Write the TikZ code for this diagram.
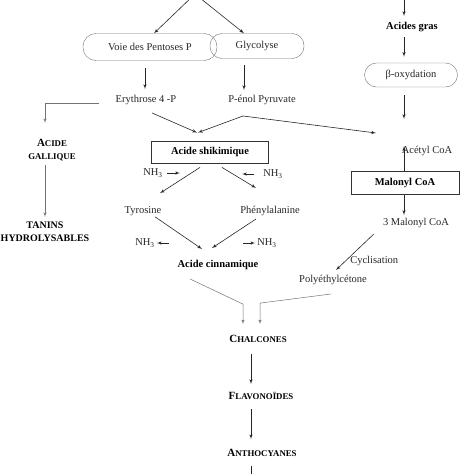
\documentclass[tikz,border=0pt]{standalone}
\usepackage{fontspec}
\setmainfont{Liberation Serif}
\usetikzlibrary{shapes,arrows,positioning}

\newcommand{\petitcap}[2]{{\fontsize{11}{13}\selectfont #1}{\fontsize{8.8}{13}\selectfont #2}}

\begin{document}
\begin{tikzpicture}[x=1pt, y=-1pt, >=latex',
    txt/.style={inner sep=2pt, font=\fontsize{10.5}{13}\selectfont, text=black!85},
    gras/.style={inner sep=2pt, font=\fontsize{10.5}{13}\selectfont\bfseries},
    pill/.style={rectangle, draw=black!55, rounded corners=12pt, minimum height=25pt, inner sep=2pt, font=\fontsize{10.5}{13}\selectfont, text=black!85},
    cadre/.style={rectangle, draw=black!80, line width=0.8pt, minimum height=22pt, inner sep=2pt, font=\fontsize{10.5}{13}\selectfont\bfseries},
    arrow/.style={->, draw=black!85, line width=0.6pt},
    fine/.style={->, draw=black!55, line width=0.5pt}]

    \useasboundingbox (0,0) rectangle (474,474);

    % Points libres
    \coordinate (src) at (195,-6);
    \coordinate (grasIn) at (404,-4);
    \coordinate (colR) at (404,0);
    \coordinate (colC) at (251,0);
    \coordinate (acJoin) at (404,119);
    \coordinate (acIn) at (376,133);
    \coordinate (finBas) at (251,482);

    % Noeuds
    \node [pill, minimum width=134pt, minimum height=27pt, rounded corners=13pt] (pentoses) at (150,47) {Voie des Pentoses P};
    \node [pill, minimum width=94pt] (glyco) at (257,46) {Glycolyse};
    \node [gras] (acgras) at (412,27) {Acides gras};
    \node [pill, minimum width=93pt, minimum height=24pt] (betaox) at (411,75) {β-oxydation};
    \node [txt] (erythrose) at (146,100) {Erythrose 4 -P};
    \node [txt] (pep) at (262,100) {P-énol Pyruvate};
    \node [gras, align=center] (gallique) at (52,150) {\petitcap{A}{CIDE}\\\petitcap{}{GALLIQUE}};
    \node [gras, align=center, font=\fontsize{10}{13}\selectfont\bfseries, inner sep=1pt] (tanins) at (45,232) {TANINS\\HYDROLYSABLES};
    \node [cadre, minimum width=117pt] (shik) at (210,152) {Acide shikimique};
    \node [txt] (acetyl) at (427,151) {Acétyl CoA};
    \node [cadre, minimum width=108pt, minimum height=23pt] (malonyl) at (405,183) {Malonyl CoA};
    \node [txt] (malonyl3) at (416,223) {3 Malonyl CoA};
    \node [txt] (polyk) at (333,280) {Polyéthylcétone};
    \node [txt] (nhA) at (153,173) {NH\textsubscript{3}};
    \node [txt] (nhB) at (273,174) {NH\textsubscript{3}};
    \node [txt] (tyr) at (143,211) {Tyrosine};
    \node [txt] (phe) at (270,211) {Phénylalanine};
    \node [txt] (nhC) at (145,243) {NH\textsubscript{3}};
    \node [txt] (nhD) at (267,243) {NH\textsubscript{3}};
    \node [gras] (cinn) at (218,265) {Acide cinnamique};
    \node [gras] (chal) at (258,339) {\petitcap{C}{HALCONES}};
    \node [gras] (flav) at (261,396) {\petitcap{F}{LAVONOÏDES}};
    \node [gras] (antho) at (262,453) {\petitcap{A}{NTHOCYANES}};

    % Voies du haut
    \draw[arrow] (src) -- ([xshift=4pt]pentoses.north);
    \draw[arrow] (src) -- ([xshift=-13pt]glyco.north);
    \draw[arrow, shorten <=7pt, shorten >=4pt] ([xshift=-5pt]pentoses.south) -- ([xshift=-1pt]erythrose.north);
    \draw[arrow, shorten <=6pt, shorten >=3pt] ([xshift=-13pt]glyco.south) -- ([xshift=-18pt]pep.north);

    % Acides gras
    \draw[arrow, shorten >=4pt] (grasIn) -- (acgras.north -| colR);
    \draw[arrow, shorten <=3pt, shorten >=6pt] (acgras.south -| colR) -- (betaox.north -| colR);
    \draw[arrow, shorten <=8pt] (betaox.south -| colR) -- (acJoin);
    \draw[arrow, shorten >=2pt] (malonyl.north -| colR) -- (acetyl.north -| colR);
    \draw[arrow, shorten >=1pt] (malonyl.south -| colR) -- (malonyl3.north -| colR);
    \draw[arrow] ([xshift=-7pt,yshift=-4pt]malonyl3.south west) -- ([xshift=3pt,yshift=3pt]polyk.north)
        node[txt, pos=0.55, anchor=north west, xshift=-5pt] {Cyclisation};

    % Vers l'acide shikimique
    \draw[arrow] ([xshift=-19pt,yshift=-9pt]pep.south) -- (acIn);
    \draw[arrow] ([xshift=-19pt,yshift=-9pt]pep.south) -- ([xshift=-12pt,yshift=8pt]shik.north);
    \draw[arrow] ([xshift=6pt,yshift=-6pt]erythrose.south) -- ([xshift=-13pt,yshift=8pt]shik.north);
    \draw[fine] ([xshift=-14pt,yshift=-3pt]erythrose.west) -| ([xshift=-7pt,yshift=14pt]gallique.north);
    \draw[fine, shorten <=2pt] ([xshift=-7pt]gallique.south) -- ([xshift=0pt,yshift=4pt]tanins.north);

    % Acides amines
    \draw[arrow] ([xshift=-10pt,yshift=-4pt]shik.south) -- ([xshift=17pt,yshift=11pt]tyr.north);
    \draw[arrow] ([xshift=12pt,yshift=-4pt]shik.south) -- ([xshift=-14pt,yshift=16pt]phe.north);
    \draw[arrow] ([xshift=2pt]nhA.east) -- ([xshift=15pt]nhA.east);
    \draw[arrow] ([xshift=-7pt]nhB.west) -- ([xshift=-19pt]nhB.west);
    \draw[arrow] ([xshift=12pt,yshift=1pt]tyr.south) -- ([xshift=-16pt,yshift=9pt]cinn.north);
    \draw[arrow] ([xshift=-14pt,yshift=-1pt]phe.south) -- ([xshift=-6pt,yshift=10pt]cinn.north);
    \draw[arrow] ([xshift=12pt]nhC.east) -- (nhC.east);
    \draw[arrow] ([xshift=-12pt]nhD.west) -- (nhD.west);

    % Flavonoides
    \draw[fine] ([xshift=-28pt,yshift=-7pt]cinn.south) -- ([xshift=-15pt,yshift=29pt]chal.north) -- ([xshift=-15pt,yshift=9pt]chal.north);
    \draw[fine] ([xshift=-2pt,yshift=-7pt]polyk.south) -- ([xshift=2pt,yshift=30pt]chal.north) -- ([xshift=2pt,yshift=9pt]chal.north);
    \draw[arrow, shorten <=9pt, shorten >=6pt] (chal.south -| colC) -- (flav.north -| colC);
    \draw[arrow, shorten <=7pt, shorten >=8pt] (flav.south -| colC) -- (antho.north -| colC);
    \draw[arrow, shorten <=7pt] (antho.south -| colC) -- (finBas);

\end{tikzpicture}
\end{document}
